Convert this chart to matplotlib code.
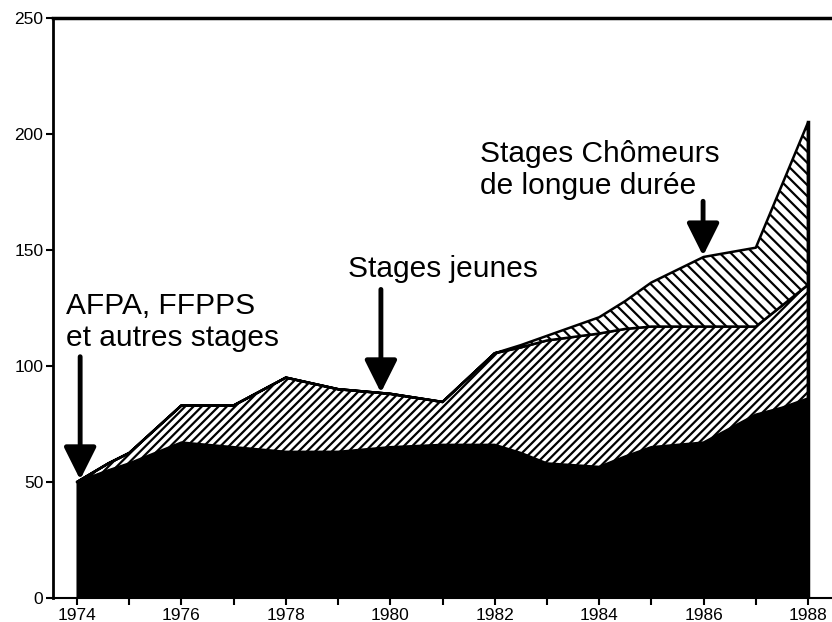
import matplotlib
matplotlib.use("Agg")
import matplotlib.pyplot as plt
import numpy as np

plt.rcParams["font.family"] = ["Liberation Sans", "DejaVu Sans"]
plt.rcParams["hatch.linewidth"] = 1.6

# years (some half-year breakpoints)
years = [1974, 1974.6, 1975, 1976, 1977, 1978, 1979, 1980, 1981, 1982,
         1982.5, 1983, 1984, 1984.5, 1985, 1986, 1986.5, 1987, 1987.5, 1988]

# AFPA, FFPPS et autres stages (black)
afpa = [50, 55, 58, 67, 65, 63, 63, 65, 66, 66,
        62.5, 58, 56.5, 61, 65, 67, 73, 79, 82, 86]
# Stages jeunes (///)
jeunes = [0, 3, 4.5, 16, 18, 32, 27, 23, 18.5, 39.5,
          45.5, 53, 57.5, 55, 52, 50, 44, 38, 44, 49]
# Stages chomeurs de longue duree (\\\)
chomeurs = [0, 0, 0, 0, 0, 0, 0, 0, 0, 0,
            1, 2, 7, 12, 19, 30, 32, 34, 52, 70]

x_ticks = list(range(1974, 1989, 2))
y_ticks = [0, 50, 100, 150, 200, 250]

x = np.array(years)
b1 = np.array(afpa)
b2 = b1 + np.array(jeunes)
b3 = b2 + np.array(chomeurs)

fig = plt.figure(figsize=(8.32, 6.22), dpi=100)
ax = fig.add_axes([53 / 832, 1 - 598 / 622, 778 / 832, 580 / 622])

ax.fill_between(x, 0, b1, facecolor="black", edgecolor="black", lw=1.5)
ax.fill_between(x, b1, b2, facecolor="white", edgecolor="black",
                hatch="////", lw=1.8)
ax.fill_between(x, b2, b3, facecolor="white", edgecolor="black",
                hatch="\\\\\\", lw=1.8)
ax.plot([x[-1], x[-1]], [0, b3[-1]], color="black", lw=2.5)

ax.set_xlim(1973.54, 1988.44)
ax.set_ylim(0, 250)

ax.set_xticks(x_ticks)
ax.set_xticks(range(1975, 1988, 2), minor=True)
ax.set_yticks(y_ticks)
ax.tick_params(axis="both", which="both", direction="out", length=5,
               width=1.5, labelsize=12.5, pad=2)

ax.spines["right"].set_visible(False)
ax.spines["top"].set_linewidth(2.5)
ax.spines["left"].set_linewidth(2)
ax.spines["bottom"].set_linewidth(1.5)

arrow = dict(arrowstyle="-|>,head_length=0.9,head_width=0.45",
             lw=3.5, color="black", mutation_scale=22, shrinkA=0, shrinkB=0)

ax.text(1973.79, 132, "AFPA, FFPPS\net autres stages", fontsize=21.5,
        va="top", ha="left", linespacing=1.2)
ax.annotate("", xy=(1974.06, 51), xytext=(1974.06, 104), arrowprops=arrow)

ax.text(1979.19, 148, "Stages jeunes", fontsize=21.5, va="top", ha="left")
ax.annotate("", xy=(1979.82, 88.5), xytext=(1979.82, 133), arrowprops=arrow)

ax.text(1981.72, 197.5, "Stages Chômeurs\nde longue durée", fontsize=21.5,
        va="top", ha="left", linespacing=1.2)
ax.annotate("", xy=(1985.99, 147.5), xytext=(1985.99, 171), arrowprops=arrow)

fig.savefig("out.png", dpi=100)
